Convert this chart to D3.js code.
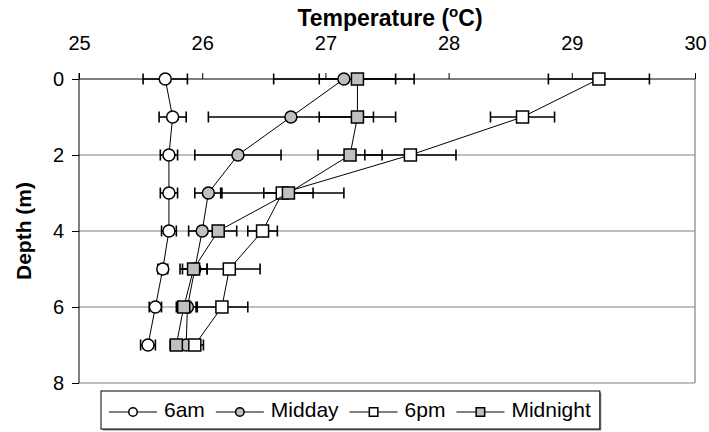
<!DOCTYPE html>
<html><head><meta charset="utf-8">
<script src="https://cdn.jsdelivr.net/npm/d3@7"></script>
<style>body{margin:0;background:#fff}svg{display:block}text{font-family:"Liberation Sans",Arial,sans-serif}</style>
</head><body><svg id="c" width="709" height="432"></svg>
<script>
const depths = [0,1,2,3,4,5,6,7];
const seriesNames = ["6am","Midday","6pm","Midnight"];
const t6am      = [25.70,25.76,25.73,25.73,25.73,25.68,25.62,25.56];
const e6am      = [0.18,0.11,0.07,0.07,0.06,0.04,0.05,0.06];
const tMidday   = [27.15,26.72,26.29,26.05,26.00,25.94,25.88,25.87];
const eMidday   = [0.57,0.67,0.35,0.11,0.11,0.10,0.08,0.06];
const t6pm      = [29.22,28.60,27.69,26.65,26.49,26.22,26.16,25.94];
const e6pm      = [0.41,0.26,0.37,0.50,0.12,0.25,0.21,0.07];
const tMidnight = [27.26,27.26,27.20,26.70,26.13,25.93,25.85,25.79];
const eMidnight = [0.31,0.31,0.26,0.20,0.15,0.11,0.06,0.05];
const xTicks = [25,26,27,28,29,30];
const yTicks = [0,2,4,6,8];

const series = [
  {name:seriesNames[0], t:t6am, e:e6am, shape:"circle", fill:"#ffffff"},
  {name:seriesNames[1], t:tMidday, e:eMidday, shape:"circle", fill:"#c0c0c0"},
  {name:seriesNames[2], t:t6pm, e:e6pm, shape:"square", fill:"#ffffff"},
  {name:seriesNames[3], t:tMidnight, e:eMidnight, shape:"square", fill:"#c0c0c0"}
];

const svg = d3.select("#c");
const L=79, R=695, T=79, B=383;
const x = d3.scaleLinear().domain([25,30]).range([L,R]);
const y = d3.scaleLinear().domain([0,8]).range([T,B]);

// gridlines
svg.append("g").selectAll("line").data(yTicks.slice(1)).join("line")
  .attr("x1",L).attr("x2",R).attr("y1",d=>y(d)).attr("y2",d=>y(d))
  .attr("stroke","#808080").attr("stroke-width",1.2);
// right border
svg.append("line").attr("x1",R).attr("x2",R).attr("y1",T).attr("y2",B)
  .attr("stroke","#999").attr("stroke-width",1.5);

// axes
const xAxis = d3.axisTop(x).tickValues(xTicks).tickSize(6).tickFormat(d3.format("d"));
const gx = svg.append("g").attr("transform",`translate(0,${T})`).call(xAxis);
gx.select(".domain").attr("stroke","#000").attr("d",`M${L},0H${R}`);
gx.selectAll(".tick line").attr("stroke","#000");
gx.selectAll(".tick text").attr("font-size",20).attr("fill","#000")
  .attr("dy",null).attr("y",50-T);

const yAxis = d3.axisLeft(y).tickValues(yTicks).tickSize(7).tickFormat(d3.format("d"));
const gy = svg.append("g").attr("transform",`translate(${L},0)`).call(yAxis);
gy.select(".domain").attr("stroke","#000").attr("d",`M0,${T-6}V${B}`);
gy.selectAll(".tick line").attr("stroke","#000");
gy.selectAll(".tick text").attr("font-size",20).attr("fill","#000").attr("x",-15);

// titles
const tt = svg.append("text").attr("x",(L+R)/2+3).attr("y",26).attr("text-anchor","middle")
  .attr("font-size",23).attr("font-weight","bold");
tt.append("tspan").text("Temperature (");
tt.append("tspan").attr("font-size",15).attr("dy",-9).text("o");
tt.append("tspan").attr("dy",9).text("C)");
svg.append("text").attr("transform",`translate(31,${(T+B)/2}) rotate(-90)`)
  .attr("text-anchor","middle").attr("font-size",21).attr("font-weight","bold").text("Depth (m)");

// error bars
const capH = 5.5;
series.forEach(s=>{
  const g = svg.append("g").attr("stroke","#000").attr("stroke-width",1.6);
  depths.forEach((d,i)=>{
    const x0=x(s.t[i]-s.e[i]), x1=x(s.t[i]+s.e[i]), yy=y(d);
    g.append("line").attr("x1",x0).attr("x2",x1).attr("y1",yy).attr("y2",yy);
    g.append("line").attr("x1",x0).attr("x2",x0).attr("y1",yy-capH).attr("y2",yy+capH);
    g.append("line").attr("x1",x1).attr("x2",x1).attr("y1",yy-capH).attr("y2",yy+capH);
  });
});

function marker(g, s, cx, cy, size){
  if(s.shape==="circle"){
    g.append("circle").attr("cx",cx).attr("cy",cy).attr("r",size/2)
      .attr("fill",s.fill).attr("stroke","#000").attr("stroke-width",1.5);
  } else {
    g.append("rect").attr("x",cx-size/2).attr("y",cy-size/2).attr("width",size).attr("height",size)
      .attr("fill",s.fill).attr("stroke","#000").attr("stroke-width",1.5);
  }
}

const line = d3.line().x(p=>x(p[0])).y(p=>y(p[1]));
series.forEach(s=>{
  const g = svg.append("g");
  g.append("path").attr("d",line(depths.map((d,i)=>[s.t[i],d])))
    .attr("fill","none").attr("stroke","#000").attr("stroke-width",1);
  depths.forEach((d,i)=>marker(g,s,x(s.t[i]),y(d),12));
});

// legend
const lg = svg.append("g");
const ly = 412;
let cx = 109;
series.forEach(s=>{
  const g = lg.append("g");
  g.append("line").attr("x1",cx).attr("x2",cx+48).attr("y1",ly).attr("y2",ly)
    .attr("stroke","#000").attr("stroke-width",1);
  marker(g,s,cx+24,ly,8.5);
  const t = g.append("text").attr("x",cx+55).attr("y",ly+5).attr("font-size",21).text(s.name);
  const w = t.node().getComputedTextLength();
  cx = cx+55+w+11;
});
const lx0=101, lx1=cx-2, ly0=391, ly1=429;
lg.insert("rect",":first-child").attr("x",lx0+1.5).attr("y",ly0+1.5).attr("width",lx1-lx0).attr("height",ly1-ly0).attr("fill","#808080");
lg.insert("rect",":nth-child(2)").attr("x",lx0).attr("y",ly0).attr("width",lx1-lx0).attr("height",ly1-ly0)
  .attr("fill","#fff").attr("stroke","#000").attr("stroke-width",1);
</script></body></html>
